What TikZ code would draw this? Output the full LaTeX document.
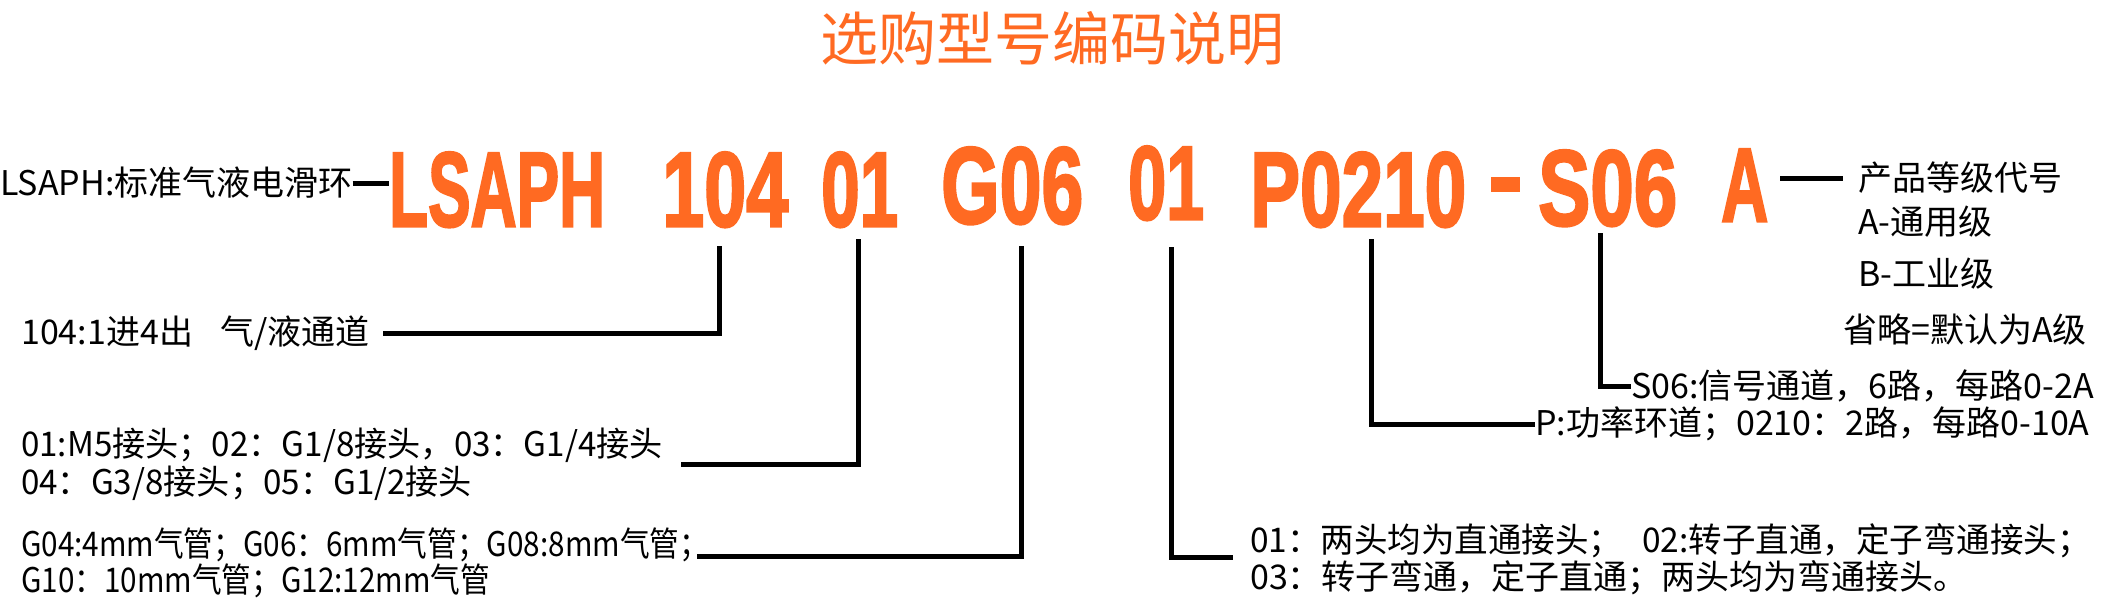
\documentclass[tikz,border=0pt]{standalone}
\usepackage{fontspec}
\setmainfont{Noto Sans CJK SC}
\newfontfamily\codefont[FakeBold=2.5]{Liberation Sans}
\usetikzlibrary{calc}
\definecolor{codeor}{RGB}{255,106,34}
\begin{document}
\begin{tikzpicture}[x=1pt,y=-1pt,
  txt/.style={anchor=west,inner sep=0pt,font=\fontsize{34}{40}\selectfont},
  conn/.style={line width=5pt,line join=miter},
  code/.style={anchor=north west,inner sep=0pt,text=codeor}]
\useasboundingbox (0,0) rectangle (2104,600);
% title
\node[inner sep=0pt,text=codeor,font=\fontsize{58}{60}\selectfont] (title) at (1052,38) {选购型号编码说明};
% code segments
\node[code] (cL) at (389,152) {\resizebox{216pt}{74pt}{\codefont\bfseries LSAPH}};
\node[code] (c104) at (662,152) {\resizebox{126pt}{74pt}{\codefont\bfseries 104}};
\node[code] (c01) at (821,152) {\resizebox{77pt}{74pt}{\codefont\bfseries 01}};
\node[code] (cG) at (941,147) {\resizebox{142pt}{76pt}{\codefont\bfseries G06}};
\node[code] (c01b) at (1128,146) {\resizebox{76pt}{73pt}{\codefont\bfseries 01}};
\node[code] (cP) at (1250,152) {\resizebox{216pt}{74pt}{\codefont\bfseries P0210}};
\node[anchor=north west,inner sep=0pt,fill=codeor,minimum width=29pt,minimum height=15pt] (cD) at (1491,177) {};
\node[code] (cS) at (1538,150) {\resizebox{139pt}{75pt}{\codefont\bfseries S06}};
\node[code] (cA) at (1721,149) {\resizebox{47pt}{72pt}{\codefont\bfseries A}};
% texts
\node[txt] (t0) at (0,183) {LSAPH:标准气液电滑环};
\node[txt] (t104) at (21,333) {104:1进4出\hspace{0.8em}气/液通道};
\node[txt] (t01a) at (21,445) {\scalebox{0.975}[1]{01:M5接头；02：G1/8接头，03：G1/4接头}};
\node[txt] (t01b) at (21,483) {\scalebox{0.975}[1]{04：G3/8接头；05：G1/2接头}};
\node[txt] (tG1) at (21,545) {\scalebox{0.873}[1]{G04:4mm气管；G06：6mm气管；G08:8mm气管；}};
\node[txt] (tG2) at (21,581) {\scalebox{0.873}[1]{G10：10mm气管；G12:12mm气管}};
\node[txt] (tR1) at (1250,541) {\scalebox{0.985}[1]{01：两头均为直通接头；\hspace{0.6em}02:转子直通，定子弯通接头；}};
\node[txt] (tR2) at (1250,578) {03：转子弯通，定子直通；两头均为弯通接头。};
\node[txt] (tP) at (1535,424) {P:功率环道；0210：2路，每路0-10A};
\node[txt] (tS) at (1631,386) {S06:信号通道，6路，每路0-2A};
\node[txt] (tQ1) at (1858,178) {产品等级代号};
\node[txt] (tQ2) at (1858,222) {A-通用级};
\node[txt] (tQ3) at (1858,274) {B-工业级};
\node[txt] (tQ4) at (1843,330) {省略=默认为A级};
% connector points
\coordinate (v104) at (719,246);
\coordinate (v01) at (858,239);
\coordinate (e01) at (681,464);
\coordinate (vG) at (1021,246);
\coordinate (eG) at (697,556);
\coordinate (v01b) at (1171,247);
\coordinate (e01b) at (1233,557);
\coordinate (vP) at (1371,239);
\coordinate (vS) at (1600,233);
% connectors
\draw[conn] (t0.east) -- (t0.east -| cL.west);
\draw[conn] ($(cA.east |- tQ1.west)+(12,0)$) -- ($(tQ1.west)+(-15,0)$);
\draw[conn] (v104) |- ($(t104.east)+(13,0)$);
\draw[conn] (v01) |- (e01);
\draw[conn] (vG) |- (eG);
\draw[conn] (v01b) |- (e01b);
\draw[conn] (vP) |- (tP.west);
\draw[conn] (vS) |- (tS.west);
\end{tikzpicture}
\end{document}
